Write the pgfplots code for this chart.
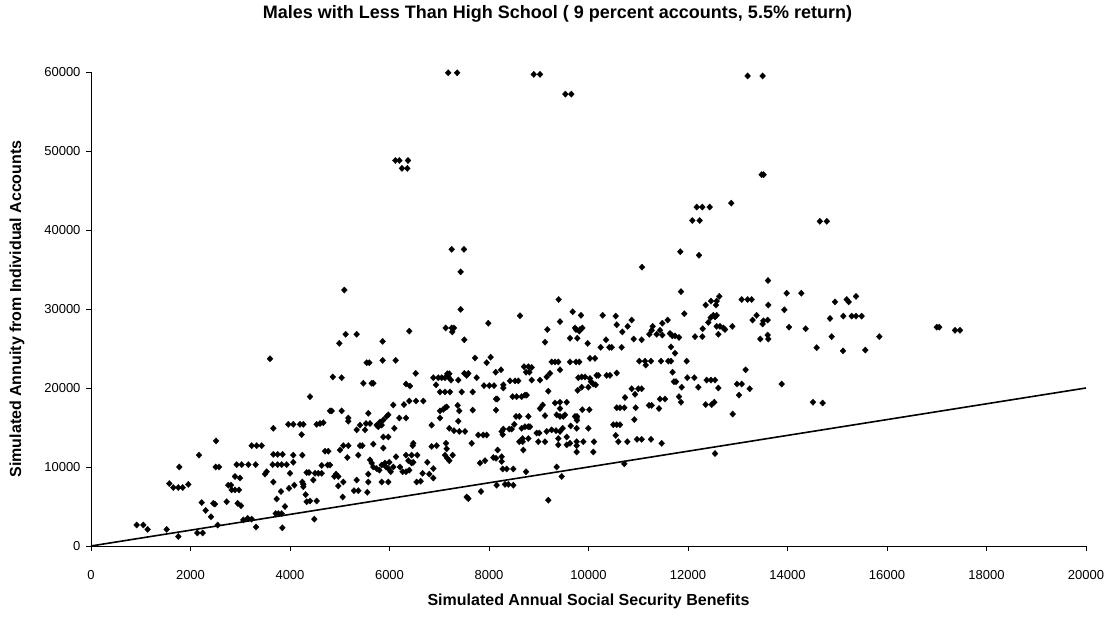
\documentclass[border=0pt]{standalone}
\usepackage{pgfplots}
\pgfplotsset{compat=1.18}
\usepackage{fontspec}
\setmainfont{Liberation Sans}

\pgfplotstableread{
x y
7180 59900
7360 59900
8900 59700
9025 59700
9535 57200
9655 57200
6118 48800
6198 48800
6372 48800
6250 47800
6358 47800
13198 59500
13500 59500
13480 47000
13520 47000
12175 42900
12288 42900
12436 42900
12870 43400
12087 41200
12235 41200
14650 41100
14790 41100
14955 30900
15190 31200
15230 30900
15377 31600
14854 28800
15122 29100
15290 29100
15377 29100
15490 29100
14888 26500
15846 26500
15116 24700
15564 24800
17000 27700
17050 27700
17367 27300
17467 27300
14706 18100
14512 18200
13883 20500
9863 20100
9997 20100
9782 19700
10050 20800
10097 20500
10145 20400
10868 19900
11001 19900
11068 19900
10935 19200
10734 18800
10567 17500
10633 17500
10720 17500
10948 17500
9876 17250
10017 17250
9769 16400
9769 15900
10921 16000
10499 15350
10566 15350
10633 15350
9997 14900
10547 14000
10600 13200
10780 13200
10975 13500
11069 13500
11256 13500
11471 13000
9762 13200
9896 13200
9762 12700
10110 13200
9762 11900
10097 11900
10720 10400
12543 11700
11437 18600
11538 18600
11417 17400
11216 17800
11270 17800
11718 20800
11759 20800
11873 20100
11819 18900
11859 18200
11986 21300
12127 21300
12207 20100
12375 21000
12462 21000
12543 21000
12610 20000
12355 17900
12476 17900
12529 18200
12898 16700
12985 20500
13080 20500
13025 19100
13240 19900
4860 21400
5038 21300
5474 20600
5642 20600
5675 20600
6332 20500
6412 20250
6881 21300
6981 21300
7049 21300
7115 21300
7182 21400
6935 20400
7236 21000
7383 21000
7551 21600
7752 21300
7015 19500
7116 19500
7216 19500
7451 19500
7672 19500
7899 20300
8006 20300
8101 20300
8288 20400
8288 20000
8422 20900
8523 20900
8589 20900
8858 21000
9025 21000
9159 21400
9192 19600
8475 18900
8555 18900
8656 18900
8723 19100
8757 19100
8141 18600
8166 18600
8141 17200
9079 17850
9025 17400
9327 18100
9427 18200
9562 18200
9427 17400
9360 16600
9427 16400
9493 16400
9528 16600
9126 16500
9729 16400
9762 16200
8543 16400
8610 16400
8791 16400
8509 15400
8656 14900
8723 15100
8790 15100
8824 15100
8288 14800
8408 14800
8456 14800
8255 14500
8275 14100
8676 13600
8790 13600
8958 14300
9011 14300
8609 13200
8676 13200
8991 13200
9126 13200
9159 14500
9259 14700
9347 14600
9427 14500
9481 14900
9393 12800
9562 12800
9628 13000
9642 15200
9762 14900
9393 13600
9562 13800
8690 12150
8744 9400
9360 10000
9461 8800
8173 12150
8087 11200
8141 11100
8255 11300
8255 10700
8275 9750
8355 9750
8489 9750
7819 10500
7920 10800
7652 13000
8154 7700
8322 7800
8389 7800
8489 7700
7839 6900
7551 6200
7585 6000
9192 5800
4804 17100
4838 17100
5038 17100
5574 16800
5172 16200
5172 15800
5340 14700
5407 15300
5528 15500
5608 15500
5508 14700
5742 15300
5809 15700
5876 15950
5943 16400
5976 16600
5775 15100
5843 15300
6076 17850
6291 17900
6398 18350
6533 18350
6680 18350
6198 16200
6332 16200
6097 14900
5876 13800
5976 13800
5876 12400
5675 12900
5407 12700
5453 12700
5072 12700
5172 12700
5005 12150
5152 11200
5373 11500
4804 10250
4925 9100
4971 8800
5072 8100
4971 7600
5059 6200
5340 8350
5286 7000
5373 7000
5554 6800
5574 8100
5574 9100
5608 10900
5642 10500
5675 10000
5742 9800
5796 9600
5843 10250
5910 10500
5930 10000
5976 9800
6024 9400
5996 10600
5843 8100
5976 8100
6077 10000
6131 11300
6211 10000
6264 9400
6332 9400
6398 9600
6445 10500
6478 10600
6332 11500
6445 11500
6559 11500
6379 10800
6478 13000
6466 12700
6545 8100
6626 8200
6665 9200
6800 9100
6881 8600
6760 10600
6881 9800
6847 12600
6948 12700
6847 15300
7015 16200
7136 13000
7149 12300
7116 11500
7162 11100
7202 10800
7269 11500
7015 17100
7082 17300
7149 17600
7116 17500
7370 17800
7403 17100
7383 15800
7202 14900
7296 14600
7403 14500
7518 14500
7672 17200
7785 14050
7885 14050
7953 14050
918 2660
1052 2660
1138 2100
1521 2100
1755 1200
2137 1650
2245 1650
2546 2650
1574 7900
1655 7400
1755 7400
1843 7400
1775 10000
1956 7800
2171 11500
2225 5500
2305 4500
2412 3700
2459 5400
2492 5300
2513 13300
2506 10000
2573 10000
2727 5600
2760 7700
2814 7700
2827 7100
2894 7100
2975 7100
2894 8800
2995 8600
2928 10300
3029 10300
2948 5400
3015 5100
3062 3300
3149 3500
3230 3400
3163 10300
3310 10300
3230 12700
3330 12700
3431 12700
3317 2400
3497 9100
3531 9400
3665 14900
3665 11600
3751 11600
3851 11600
3652 10300
3751 10300
3833 10300
3933 10300
3665 8100
3732 5950
3712 4100
3765 4100
3833 4100
3819 6900
3846 2300
3899 5000
3966 15400
4066 15400
4000 9200
4066 11500
4066 10600
4087 7700
3980 7300
4201 15400
4268 15400
4234 14100
4248 11500
4248 8100
4268 7800
4268 7500
4315 6500
4335 5600
4402 5700
4402 18900
4335 9300
4382 9300
4489 3400
4503 9200
4569 9200
4637 9200
4469 8350
4536 15400
4603 15500
4670 15600
4536 5700
4637 10200
4704 12000
4770 12000
4757 10250
4891 8800
5092 32400
4991 25650
5119 26800
5340 26800
5541 23200
5594 23200
5862 25900
5862 23500
6124 23500
6398 27200
6527 21850
7250 37550
7497 37550
7430 34700
7430 29950
7129 27600
7250 27600
7296 27600
7262 27100
7504 26100
7719 23800
7953 23200
8033 23900
7986 28200
8134 22000
8241 22300
7504 21850
7584 21850
7162 21800
7202 21800
8623 29150
8704 22700
8790 22700
8858 22600
8744 22000
8811 22000
9126 25800
9173 27400
9226 21850
9260 23300
9327 23300
9393 23300
9427 22300
9400 31200
9427 28400
9682 29650
9749 27400
9815 27200
9628 26300
9775 26300
9628 23300
9749 23300
9815 23300
9849 29200
9795 21300
11845 37250
12221 36800
11075 35300
11859 32200
13608 33600
13983 32000
14278 32000
11926 29400
12355 30500
12462 31000
12576 31000
12629 31600
12563 30500
13079 31200
13198 31200
13279 31200
13614 30500
13936 29900
13379 29200
13298 28600
13514 28500
13601 28600
13500 28100
14030 27700
14365 27500
13601 26700
13614 26200
13453 26200
14586 25100
13158 22300
12455 28900
12508 29200
12543 29000
12576 29200
12408 28300
12295 27500
12576 27800
12643 27800
12710 27600
12744 27400
12610 26800
12141 26500
12288 26500
12891 27800
11290 27800
11270 27300
11370 26800
11437 27300
11484 26700
11222 26800
11484 28200
11591 28600
10868 28600
10787 27800
10680 27100
10567 28000
10547 29100
10285 29200
9729 27600
9829 27400
9876 27600
9983 25650
10352 26100
10245 25150
10419 25150
10466 25150
10666 25150
10908 26200
11068 26100
11638 26900
11685 26600
11739 26600
11819 26400
11658 25200
11739 24400
11457 23400
11604 23400
11658 23400
11973 23400
11021 23400
11136 23400
11256 23400
11150 22900
11690 22000
10030 23750
10130 23750
9863 21400
9930 21400
10030 21200
10164 21600
10198 21600
10365 21600
10432 21600
10567 21900
3598 23700
}\annuitydata

\begin{document}
\begin{tikzpicture}
\begin{axis}[
  scale only axis,
  width=995bp, height=474bp,
  xmin=0, xmax=20000, ymin=0, ymax=60000,
  axis x line*=bottom, axis y line*=left,
  axis line style={-, line width=0.9bp},
  xtick={0,2000,...,20000},
  ytick={0,10000,...,60000},
  tick align=outside,
  major tick length=5bp,
  tick style={line width=0.8bp, black},
  scaled ticks=false,
  /pgf/number format/1000 sep={},
  /pgf/number format/assume math mode=true,
  tick label style={font=\fontsize{13bp}{15bp}\selectfont},
  xticklabel style={yshift=-16bp},
  yticklabel style={xshift=-2bp},
  every axis title shift=0pt,
  title={Males with Less Than High School ( 9 percent accounts, 5.5\% return)},
  title style={font=\fontsize{18bp}{21bp}\selectfont\bfseries,
    at={(axis description cs:0.4688,1.1224)}, anchor=center},
  xlabel={Simulated Annual Social Security Benefits},
  xlabel style={font=\fontsize{16bp}{19bp}\selectfont\bfseries,
    at={(axis description cs:0.5,-0.116)}, anchor=center},
  ylabel={Simulated Annuity from Individual Accounts},
  ylabel style={font=\fontsize{16bp}{19bp}\selectfont\bfseries,
    at={(axis description cs:-0.0744,0.5)}, anchor=center},
  clip=false,
]
  % simulated individual annuities
  \addplot[only marks, mark=diamond*, mark size=3.2bp,
    mark options={xscale=1.25, fill=black, draw=black, line width=0.2bp}]
    table[x=x, y=y] {\annuitydata};
  % 45-degree reference line
  \addplot[black, line width=1.6bp] coordinates {(0,0) (20000,20000)};
\end{axis}
\path (current axis.south west) ++(-91bp,-72bp) coordinate (bbA);
\path (current axis.north east) ++(29bp,72bp) coordinate (bbB);
\pgfresetboundingbox
\path[use as bounding box] (bbA) rectangle (bbB);
\end{tikzpicture}
\end{document}
